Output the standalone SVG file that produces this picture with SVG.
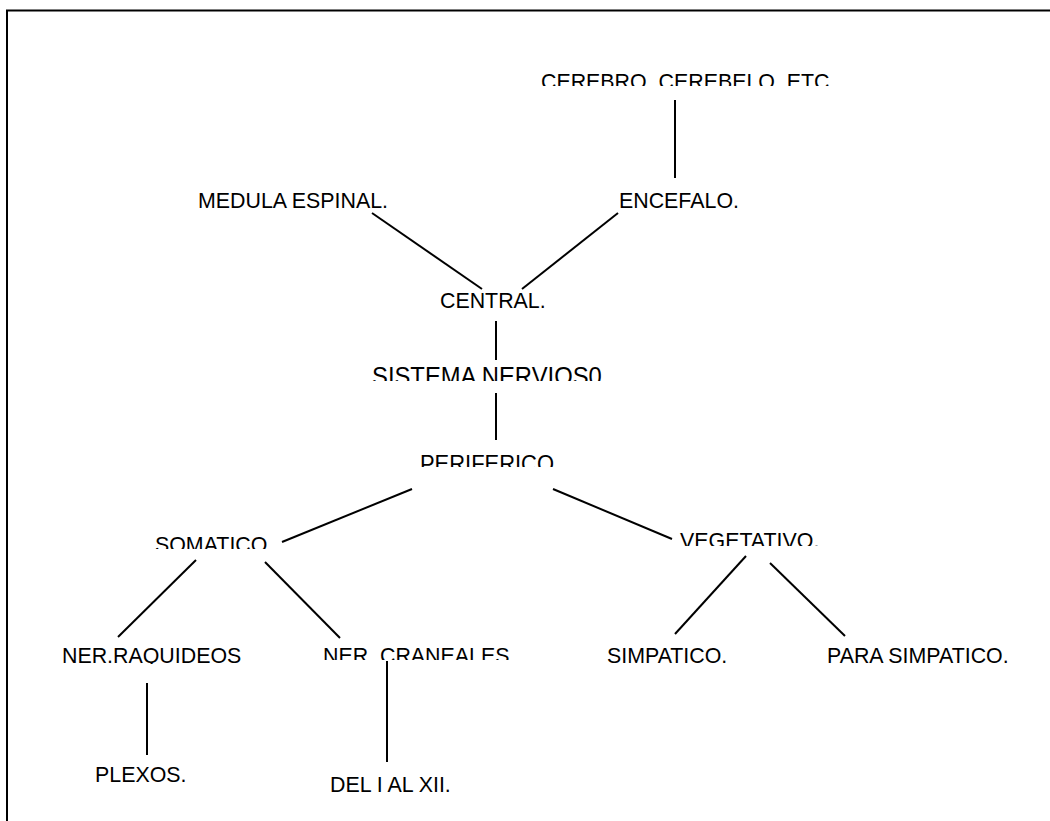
<svg xmlns="http://www.w3.org/2000/svg" width="1050" height="821" viewBox="0 0 1050 821">
  <style>
    .lbl { font-family: "Liberation Sans", Arial, sans-serif; font-size: 23px; fill: #000; }
    .big { font-size: 25.6px; }
    .mid { font-size: 23.6px; }
    .edge { stroke: #000; stroke-width: 2; fill: none; }
    .frame { stroke: #000; stroke-width: 2; fill: none; }
  </style>
  <defs>
    <!-- label boxes cut the text off near the baseline -->
    <clipPath id="c-cerebro" clipPathUnits="userSpaceOnUse"><rect x="520" y="50" width="340" height="36"/></clipPath>
    <clipPath id="c-medula" clipPathUnits="userSpaceOnUse"><rect x="180" y="170" width="230" height="42"/></clipPath>
    <clipPath id="c-encefalo" clipPathUnits="userSpaceOnUse"><rect x="600" y="170" width="160" height="42"/></clipPath>
    <clipPath id="c-central" clipPathUnits="userSpaceOnUse"><rect x="420" y="270" width="150" height="43"/></clipPath>
    <clipPath id="c-sistema" clipPathUnits="userSpaceOnUse"><rect x="350" y="350" width="280" height="31"/></clipPath>
    <clipPath id="c-periferico" clipPathUnits="userSpaceOnUse"><rect x="400" y="440" width="180" height="27"/></clipPath>
    <clipPath id="c-somatico" clipPathUnits="userSpaceOnUse"><rect x="140" y="520" width="150" height="29"/></clipPath>
    <clipPath id="c-vegetativo" clipPathUnits="userSpaceOnUse"><rect x="660" y="515" width="180" height="31"/></clipPath>
    <clipPath id="c-raquideos" clipPathUnits="userSpaceOnUse"><rect x="50" y="630" width="210" height="34"/></clipPath>
    <clipPath id="c-craneales" clipPathUnits="userSpaceOnUse"><rect x="310" y="630" width="210" height="30"/></clipPath>
    <clipPath id="c-simpatico" clipPathUnits="userSpaceOnUse"><rect x="590" y="630" width="160" height="33"/></clipPath>
    <clipPath id="c-parasimpatico" clipPathUnits="userSpaceOnUse"><rect x="810" y="630" width="220" height="33"/></clipPath>
    <clipPath id="c-plexos" clipPathUnits="userSpaceOnUse"><rect x="80" y="750" width="150" height="34"/></clipPath>
    <clipPath id="c-del" clipPathUnits="userSpaceOnUse"><rect x="310" y="760" width="170" height="32"/></clipPath>
  </defs>

  <rect width="1050" height="821" fill="#fff"/>

  <!-- page frame: top and left rules -->
  <path class="frame" d="M7,821 V10.5 H1050"/>

  <g id="connectors">
    <line class="edge" x1="675" y1="100" x2="675" y2="178"/>
    <line class="edge" x1="372" y1="213" x2="482" y2="289"/>
    <line class="edge" x1="618" y1="213" x2="522" y2="289"/>
    <line class="edge" x1="496" y1="321" x2="496" y2="360"/>
    <line class="edge" x1="496" y1="393" x2="496" y2="440"/>
    <line class="edge" x1="412" y1="489" x2="282" y2="542"/>
    <line class="edge" x1="553" y1="489" x2="672" y2="539"/>
    <line class="edge" x1="196" y1="560" x2="118" y2="637"/>
    <line class="edge" x1="265" y1="562" x2="340" y2="638"/>
    <line class="edge" x1="746" y1="556" x2="675" y2="634"/>
    <line class="edge" x1="770" y1="563" x2="845" y2="636"/>
    <line class="edge" x1="147" y1="683" x2="147" y2="755"/>
    <line class="edge" x1="387" y1="661" x2="387" y2="762"/>
  </g>

  <!-- labels use a slightly condensed face: taller glyphs, same advance -->
  <g id="cerebro" clip-path="url(#c-cerebro)"><text class="lbl" transform="translate(541,89) scale(0.93,1)">CEREBRO, CEREBELO, ETC</text></g>
  <g id="medula" clip-path="url(#c-medula)"><text class="lbl" transform="translate(198,208) scale(0.93,1)">MEDULA ESPINAL.</text></g>
  <g id="encefalo" clip-path="url(#c-encefalo)"><text class="lbl" transform="translate(619,208) scale(0.93,1)">ENCEFALO.</text></g>
  <g id="central" clip-path="url(#c-central)"><text class="lbl" transform="translate(440,308) scale(0.93,1)">CENTRAL.</text></g>
  <g id="sistema" clip-path="url(#c-sistema)"><text class="lbl big" transform="translate(372,385) scale(0.93,1)">SISTEMA NERVIOS0</text></g>
  <g id="periferico" clip-path="url(#c-periferico)"><text class="lbl mid" transform="translate(420,472) scale(0.93,1)">PERIFERICO.</text></g>
  <g id="somatico" clip-path="url(#c-somatico)"><text class="lbl" transform="translate(155,552) scale(0.93,1)">SOMATICO.</text></g>
  <g id="vegetativo" clip-path="url(#c-vegetativo)"><text class="lbl" transform="translate(680,548) scale(0.93,1)">VEGETATIVO.</text></g>
  <g id="raquideos" clip-path="url(#c-raquideos)"><text class="lbl" transform="translate(62,663) scale(0.93,1)">NER.RAQUIDEOS</text></g>
  <g id="craneales" clip-path="url(#c-craneales)"><text class="lbl" transform="translate(323,663) scale(0.93,1)">NER. CRANEALES</text></g>
  <g id="simpatico" clip-path="url(#c-simpatico)"><text class="lbl" transform="translate(607,663) scale(0.93,1)">SIMPATICO.</text></g>
  <g id="parasimpatico" clip-path="url(#c-parasimpatico)"><text class="lbl" transform="translate(827,663) scale(0.93,1)">PARA SIMPATICO.</text></g>
  <g id="plexos" clip-path="url(#c-plexos)"><text class="lbl" transform="translate(95,782) scale(0.93,1)">PLEXOS.</text></g>
  <g id="del" clip-path="url(#c-del)"><text class="lbl" transform="translate(330,792) scale(0.93,1)">DEL I AL XII.</text></g>
</svg>
